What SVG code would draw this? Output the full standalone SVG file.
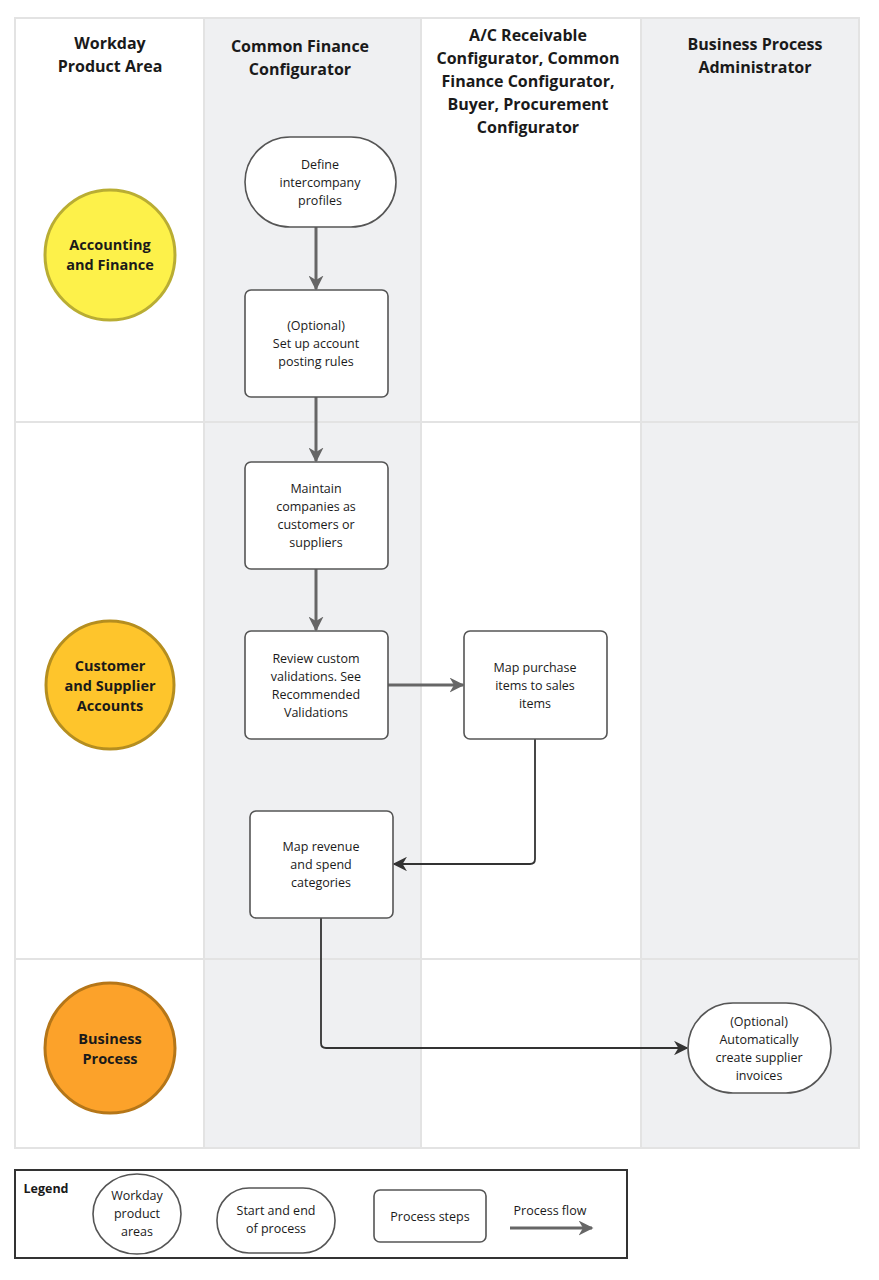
<svg xmlns="http://www.w3.org/2000/svg" width="879" height="1280" viewBox="0 0 879 1280">
<style>
text{font-family:"Open Sans","Liberation Sans",sans-serif;fill:#1a1a1a;text-anchor:middle}
.h{font-size:16px;font-weight:bold}
.c{font-size:14.5px;font-weight:bold}
.t{font-size:12.5px}
.node{fill:#fff;stroke:#555;stroke-width:1.6}
.lane{stroke:#e3e3e3;stroke-width:2}
.thick{fill:none;stroke:#666;stroke-width:3}
.thin{fill:none;stroke:#333;stroke-width:1.8}
</style>
<defs>
<marker id="ag" viewBox="0 0 10 10" refX="9" refY="5" markerWidth="5" markerHeight="5" orient="auto" markerUnits="strokeWidth"><path d="M0,0 L10,5 L0,10 L3,5 Z" fill="#666"/></marker>
<marker id="ad" viewBox="0 0 10 10" refX="9" refY="5" markerWidth="8" markerHeight="8" orient="auto" markerUnits="strokeWidth"><path d="M0,0 L10,5 L0,10 L3,5 Z" fill="#333"/></marker>
</defs>
<rect width="879" height="1280" fill="#fff"/>
<g id="lanes">
<rect x="204" y="18" width="217" height="1130" fill="#eff0f2"/>
<rect x="641" y="18" width="218" height="1130" fill="#eff0f2"/>
<rect x="15" y="18" width="844" height="1130" fill="none" class="lane"/>
<line x1="204" y1="18" x2="204" y2="1148" class="lane" stroke-width="1"/>
<line x1="421" y1="18" x2="421" y2="1148" class="lane" stroke-width="1"/>
<line x1="641" y1="18" x2="641" y2="1148" class="lane" stroke-width="1"/>
<line x1="15" y1="422" x2="859" y2="422" class="lane"/>
<line x1="15" y1="959" x2="859" y2="959" class="lane"/>
<text class="h" x="110" y="49">Workday</text>
<text class="h" x="110" y="72">Product Area</text>
<text class="h" x="300" y="52">Common Finance</text>
<text class="h" x="300" y="75">Configurator</text>
<text class="h" x="528" y="41">A/C Receivable</text>
<text class="h" x="528" y="64">Configurator, Common</text>
<text class="h" x="528" y="87">Finance Configurator,</text>
<text class="h" x="528" y="110">Buyer, Procurement</text>
<text class="h" x="528" y="133">Configurator</text>
<text class="h" x="755" y="50">Business Process</text>
<text class="h" x="755" y="73">Administrator</text>
</g>
<g id="area-accounting">
<circle cx="110" cy="255" r="65" fill="#fdf14a" stroke="#b9ad33" stroke-width="3"/>
<text class="c" x="110" y="250">Accounting</text>
<text class="c" x="110" y="270">and Finance</text>
</g>
<g id="area-customer">
<circle cx="110" cy="685" r="64" fill="#fec52c" stroke="#b58e1f" stroke-width="3"/>
<text class="c" x="110" y="671">Customer</text>
<text class="c" x="110" y="691">and Supplier</text>
<text class="c" x="110" y="711">Accounts</text>
</g>
<g id="area-business">
<circle cx="110" cy="1048" r="65" fill="#fca22a" stroke="#b57618" stroke-width="3"/>
<text class="c" x="110" y="1044">Business</text>
<text class="c" x="110" y="1064">Process</text>
</g>
<g id="connectors">
<line x1="316" y1="227" x2="316" y2="289" class="thick" marker-end="url(#ag)"/>
<line x1="316" y1="397" x2="316" y2="461" class="thick" marker-end="url(#ag)"/>
<line x1="316" y1="569" x2="316" y2="630" class="thick" marker-end="url(#ag)"/>
<line x1="388" y1="685" x2="463" y2="685" class="thick" marker-end="url(#ag)"/>
<path d="M535,739 V859 Q535,864 530,864 H394" class="thin" marker-end="url(#ad)"/>
<path d="M321,918 V1043 Q321,1048 326,1048 H687" class="thin" marker-end="url(#ad)"/>
</g>
<g id="n1">
<rect x="245" y="137" width="151" height="90" rx="45" class="node"/>
<text class="t" x="320" y="169">Define</text>
<text class="t" x="320" y="187">intercompany</text>
<text class="t" x="320" y="205">profiles</text>
</g>
<g id="n2">
<rect x="245" y="290" width="143" height="107" rx="6" class="node"/>
<text class="t" x="316" y="330">(Optional)</text>
<text class="t" x="316" y="348">Set up account</text>
<text class="t" x="316" y="366">posting rules</text>
</g>
<g id="n3">
<rect x="245" y="462" width="143" height="107" rx="6" class="node"/>
<text class="t" x="316" y="493">Maintain</text>
<text class="t" x="316" y="511">companies as</text>
<text class="t" x="316" y="529">customers or</text>
<text class="t" x="316" y="547">suppliers</text>
</g>
<g id="n4">
<rect x="245" y="631" width="143" height="108" rx="6" class="node"/>
<text class="t" x="316" y="663">Review custom</text>
<text class="t" x="316" y="681">validations. See</text>
<text class="t" x="316" y="699">Recommended</text>
<text class="t" x="316" y="717">Validations</text>
</g>
<g id="n5">
<rect x="464" y="631" width="143" height="108" rx="6" class="node"/>
<text class="t" x="535" y="672">Map purchase</text>
<text class="t" x="535" y="690">items to sales</text>
<text class="t" x="535" y="708">items</text>
</g>
<g id="n6">
<rect x="250" y="811" width="143" height="107" rx="6" class="node"/>
<text class="t" x="321" y="851">Map revenue</text>
<text class="t" x="321" y="869">and spend</text>
<text class="t" x="321" y="887">categories</text>
</g>
<g id="n7">
<rect x="688" y="1003" width="143" height="90" rx="45" class="node"/>
<text class="t" x="759" y="1026">(Optional)</text>
<text class="t" x="759" y="1044">Automatically</text>
<text class="t" x="759" y="1062">create supplier</text>
<text class="t" x="759" y="1080">invoices</text>
</g>
<g id="legend">
<rect x="15" y="1170" width="612" height="88" fill="#fff" stroke="#333" stroke-width="2"/>
<text x="46" y="1193" style="font-size:12.5px;font-weight:bold">Legend</text>
<ellipse cx="137" cy="1214" rx="44" ry="40" class="node"/>
<text class="t" x="137" y="1200">Workday</text>
<text class="t" x="137" y="1218">product</text>
<text class="t" x="137" y="1236">areas</text>
<rect x="217" y="1188" width="118" height="65" rx="32" class="node"/>
<text class="t" x="276" y="1215">Start and end</text>
<text class="t" x="276" y="1233">of process</text>
<rect x="374" y="1190" width="112" height="52" rx="6" class="node"/>
<text class="t" x="430" y="1221">Process steps</text>
<text class="t" x="550" y="1215">Process flow</text>
<line x1="510" y1="1228" x2="592" y2="1228" class="thick" marker-end="url(#ag)"/>
</g>
</svg>
